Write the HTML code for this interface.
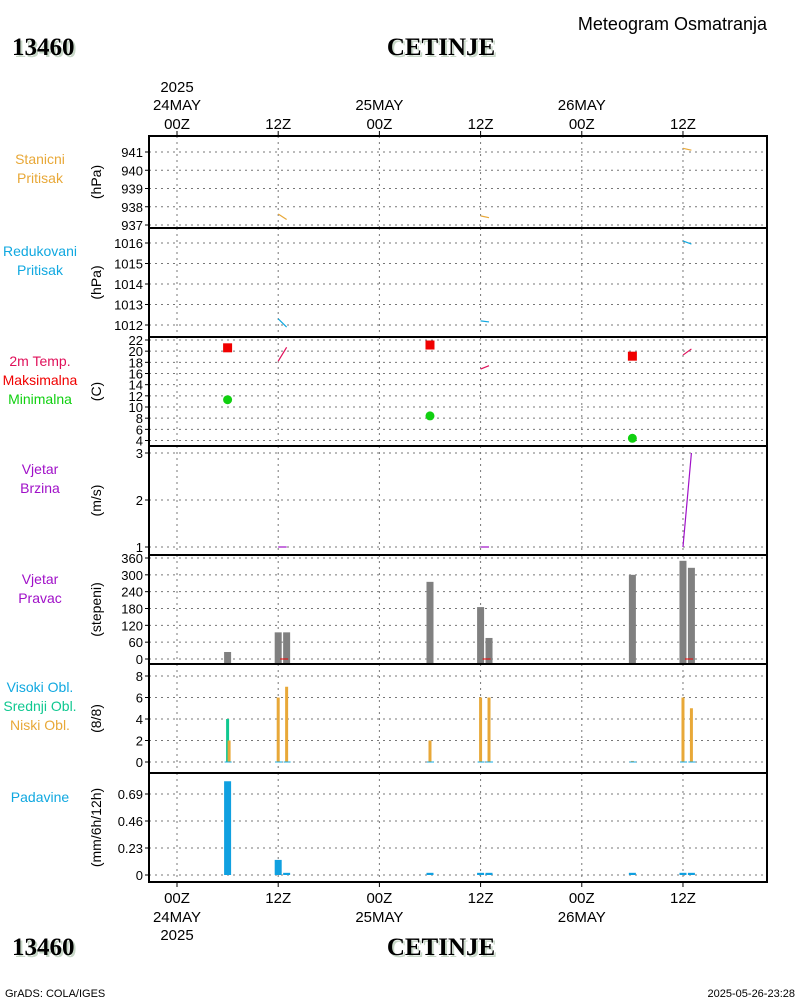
<!DOCTYPE html>
<html><head><meta charset="utf-8"><style>
html,body{margin:0;padding:0;background:#fff;width:800px;height:1000px;overflow:hidden}
svg text{font-family:"Liberation Sans Narrow","Liberation Sans",sans-serif}
</style></head><body>
<svg id="c" width="800" height="1000" xmlns="http://www.w3.org/2000/svg"></svg>
<script>
// x axis: hours since 24MAY2025 00Z
const xTickHours=[0,12,24,36,48,60];
const xTickLabels=["00Z","12Z","00Z","12Z","00Z","12Z"];
const dayLabels=["24MAY","25MAY","26MAY"];
// station pressure (hPa)
const stpHours=[12,13,36,37,60,61];
const stpVals=[937.6,937.3,937.5,937.4,941.2,941.1];
// reduced pressure
const redVals=[1012.3,1011.9,1012.2,1012.15,1016.1,1015.95];
// temperature
const tmaxHours=[6,30,54];
const tmaxVals=[20.6,21.1,19.1];
const tminVals=[11.3,8.4,4.4];
const tVals=[18.2,20.7,16.8,17.4,19.3,20.4];
// wind speed
const wsVals=[1,1,1,1,1,3];
// wind direction
const wdHours=[6,12,13,30,36,37,54,60,61];
const wdVals=[25,95,95,275,185,75,300,350,325];
// clouds
const cloudHours=[6,12,13,30,36,37,54,60,61];
const lowVals=[2,6,7,2,6,6,0.1,6,5];
const midVals=[4,0,0,0,0,0,0,0,0];
// precipitation
const prHours=[6,12,13,30,36,37,54,60,61];
const prVals=[0.79,0.12,0.01,0.01,0.01,0.01,0.01,0.01,0.01];

const svg=document.getElementById('c');
const NS='http://www.w3.org/2000/svg';
function el(tag,attrs,text){const e=document.createElementNS(NS,tag);for(const k in attrs)e.setAttribute(k,attrs[k]);if(text!==undefined)e.textContent=text;svg.appendChild(e);return e;}
const X0=149,X1=767;
function xs(h){return 177+h*8.433;}

const panels=[
 {top:136,bot:228,vmin:937,vmax:941,y0:225,y1:152,ticks:[937,938,939,940,941],unit:"(hPa)",labels:[["Stanicni","#e8a838"],["Pritisak","#e8a838"]],ly:164},
 {top:228,bot:337,vmin:1012,vmax:1016,y0:325,y1:243,ticks:[1012,1013,1014,1015,1016],unit:"(hPa)",labels:[["Redukovani","#10a8e0"],["Pritisak","#10a8e0"]],ly:256},
 {top:337,bot:446,vmin:4,vmax:22,y0:440.5,y1:340,ticks:[4,6,8,10,12,14,16,18,20,22],unit:"(C)",labels:[["2m Temp.","#e0105a"],["Maksimalna","#f00000"],["Minimalna","#10d010"]],ly:366},
 {top:446,bot:555,vmin:1,vmax:3,y0:547,y1:453,ticks:[1,2,3],unit:"(m/s)",labels:[["Vjetar","#a010c8"],["Brzina","#a010c8"]],ly:474},
 {top:555,bot:664,vmin:0,vmax:360,y0:659,y1:558,ticks:[0,60,120,180,240,300,360],unit:"(stepeni)",labels:[["Vjetar","#a010c8"],["Pravac","#a010c8"]],ly:584},
 {top:664,bot:773,vmin:0,vmax:8,y0:762,y1:676,ticks:[0,2,4,6,8],unit:"(8/8)",labels:[["Visoki Obl.","#10a8e0"],["Srednji Obl.","#10c890"],["Niski Obl.","#e8a838"]],ly:692},
 {top:773,bot:882,vmin:0,vmax:0.69,y0:875,y1:794,ticks:[0,0.23,0.46,0.69],unit:"(mm/6h/12h)",labels:[["Padavine","#10a8e0"]],ly:802}
];
function ys(p,v){return p.y0+(v-p.vmin)*(p.y1-p.y0)/(p.vmax-p.vmin);}

panels.forEach((p,i)=>{
  const g=el('g',{});
  
  
  xTickHours.forEach(h=>{
    const l=el('line',{x1:xs(h),x2:xs(h),y1:p.top,y2:p.bot,stroke:'#777','stroke-width':1,'stroke-dasharray':'2,4'});
    
    
  });
  p.ticks.forEach(t=>{
    const y=ys(p,t);
    const l=el('line',{x1:X0,x2:X1,y1:y,y2:y,stroke:'#777','stroke-width':1,'stroke-dasharray':'2,4'});
    
    
    el('line',{x1:X0-4,x2:X0,y1:y,y2:y,stroke:'#000'});
    const tx=el('text',{x:X0-6,y:y+5,'text-anchor':'end','font-size':13,fill:'#000'},String(t));
    
    
  });
  const u=el('text',{transform:`translate(${101},${(p.top+p.bot)/2}) rotate(-90)`,'text-anchor':'middle','font-size':14,fill:'#000'},p.unit);
  
  
  p.labels.forEach((lb,k)=>{
    const t=el('text',{x:40,y:p.ly+k*19,'text-anchor':'middle','font-size':14,fill:lb[1]},lb[0]);
    
    
  });
});

// series
function seg(hours,vals,p,color,name){
  for(let i=0;i<vals.length;i+=2){
    const l=el('line',{x1:xs(hours[i]),y1:ys(p,vals[i]),x2:xs(hours[i+1]),y2:ys(p,vals[i+1]),stroke:color,'stroke-width':1.2});
    
    
  }
}
seg(stpHours,stpVals,panels[0],'#e8a838','station-pressure-line');
seg(stpHours,redVals,panels[1],'#10a8e0','reduced-pressure-line');
seg(stpHours,tVals,panels[2],'#e0105a','temperature-line');
seg(stpHours,wsVals,panels[3],'#a010c8','wind-speed-line');
tmaxHours.forEach((h,i)=>{
  const r=el('rect',{x:xs(h)-4.5,y:ys(panels[2],tmaxVals[i])-4.5,width:9,height:9,fill:'#f00000'});
  
  
  const c=el('circle',{cx:xs(h),cy:ys(panels[2],tminVals[i]),r:4.5,fill:'#10d010'});
  
  
});
const pw=panels[4];
wdHours.forEach((h,i)=>{
  const y=ys(pw,wdVals[i]);
  const r=el('rect',{x:xs(h)-3.5,y:y,width:7,height:pw.bot-y,fill:'#808080'});
  
  
});
[12,36,60].forEach(h=>{el('line',{x1:xs(h)+2,x2:xs(h)+10,y1:659,y2:659,stroke:'#f00000','stroke-width':1});});
const pc=panels[5];
cloudHours.forEach((h,i)=>{
  if(midVals[i]>0){const y=ys(pc,midVals[i]);
    const r=el('rect',{x:xs(h)-1.5,y:y,width:3,height:pc.y0-y,fill:'#10c890'});
    
    }
  const y=ys(pc,lowVals[i]);
  const r=el('rect',{x:xs(h)-(midVals[i]>0?0:1.5),y:y,width:3,height:pc.y0-y,fill:'#e8a838'});
  
  
  el('line',{x1:xs(h)-3,x2:xs(h)+4,y1:pc.y0,y2:pc.y0,stroke:'#10a8e0','stroke-width':1});
});
const pp=panels[6];
prHours.forEach((h,i)=>{
  const y=ys(pp,prVals[i]);
  const r=el('rect',{x:xs(h)-3.5,y:y-1,width:7,height:Math.max(pp.y0-y+1,1.5),fill:'#10a0e0'});
  
  
});

// frames
panels.forEach(p=>{
  el('rect',{x:X0,y:p.top,width:X1-X0,height:p.bot-p.top,fill:'none',stroke:'#000','stroke-width':2});
});
// x ticks & labels
xTickHours.forEach((h,i)=>{
  el('line',{x1:xs(h),x2:xs(h),y1:131,y2:136,stroke:'#000'});
  el('line',{x1:xs(h),x2:xs(h),y1:882,y2:887,stroke:'#000'});
  const t=el('text',{x:xs(h),y:129,'text-anchor':'middle','font-size':15,fill:'#000'},xTickLabels[i]);
  
  
  const b=el('text',{x:xs(h),y:903,'text-anchor':'middle','font-size':15,fill:'#000'},xTickLabels[i]);
  
  
});
dayLabels.forEach((d,i)=>{
  const h=i*24;
  const t=el('text',{x:xs(h),y:110,'text-anchor':'middle','font-size':15,fill:'#000'},d);
  
  
  const b=el('text',{x:xs(h),y:922,'text-anchor':'middle','font-size':15,fill:'#000'},d);
  
  
});
el('text',{x:xs(0),y:92,'text-anchor':'middle','font-size':15,fill:'#000'},'2025');
el('text',{x:xs(0),y:940,'text-anchor':'middle','font-size':15,fill:'#000'},'2025');

// titles
function title(x,y,txt,anchor,name){
  el('text',{x:x+2,y:y+2,'text-anchor':anchor,'font-size':25,'font-weight':'bold','font-family':'Liberation Serif, serif',fill:'#c8d8c8',style:'font-family:"Liberation Serif",serif'},txt);
  const t=el('text',{x:x,y:y,'text-anchor':anchor,'font-size':25,'font-weight':'bold',fill:'#000',style:'font-family:"Liberation Serif",serif'},txt);
  
  
}
title(12,55,'13460','start','station-id');
title(441,55,'CETINJE','middle','station-name');
title(12,955,'13460','start','station-id-bottom');
title(441,955,'CETINJE','middle','station-name-bottom');
const mt=el('text',{x:767,y:30,'text-anchor':'end','font-size':18,fill:'#000'},'Meteogram Osmatranja');


const g1=el('text',{x:5,y:997,'font-size':11,fill:'#000'},'GrADS: COLA/IGES');


const g2=el('text',{x:795,y:997,'text-anchor':'end','font-size':11,fill:'#000'},'2025-05-26-23:28');


</script>
</body></html>
